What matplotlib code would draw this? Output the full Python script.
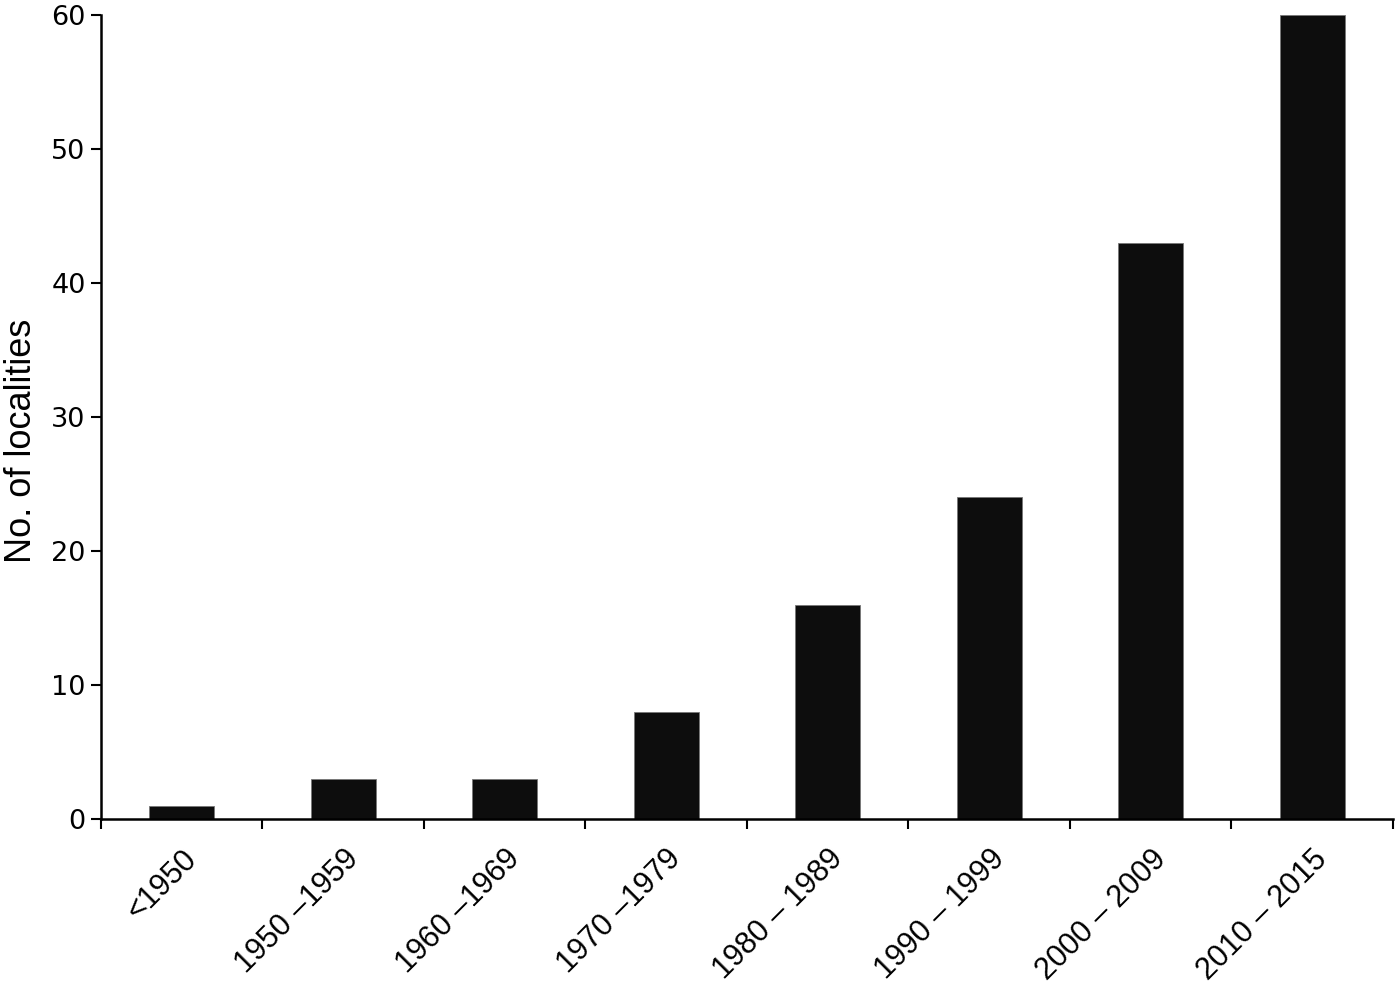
import matplotlib
matplotlib.use("Agg")
import matplotlib.pyplot as plt
import numpy as np

categories = ["<1950", "1950 –1959", "1960 –1969", "1970 –1979", "1980 – 1989",
              "1990 – 1999", "2000 – 2009", "2010 – 2015"]
values = [1, 3, 3, 8, 16, 24, 43, 60]
yticks = [0, 10, 20, 30, 40, 50, 60]

fig = plt.figure(figsize=(14, 9.86), dpi=100)
ax = fig.add_axes([0.0721, 0.1694, 0.9229, 0.8154])

x = np.arange(len(categories))
ax.bar(x, values, width=0.4, color="#0d0d0d", edgecolor="#777777", linewidth=0.6)

ax.set_xlim(-0.5, len(categories) - 0.5)
ax.set_ylim(0, 60)
ax.set_yticks(yticks)
ax.set_yticklabels([str(v) for v in yticks], fontsize=19.5, family="DejaVu Sans")

ax.set_xticks(np.arange(-0.5, len(categories), 1.0))
ax.set_xticklabels([])
ax.set_xticks(x, minor=True)
ax.set_xticklabels(categories, minor=True, rotation=45, ha="right", va="top",
                   rotation_mode="anchor", fontsize=22, family="Liberation Sans")
ax.tick_params(axis="x", which="minor", length=0, pad=18)
ax.tick_params(axis="x", which="major", length=7, width=1.5, direction="out")
ax.tick_params(axis="y", length=7, width=1.5, direction="out", pad=4)

for s in ["top", "right"]:
    ax.spines[s].set_visible(False)
for s in ["left", "bottom"]:
    ax.spines[s].set_linewidth(1.8)

fig.text(22 / 1400, 1 - 441 / 986, "No. of localities", fontsize=26,
         family="Liberation Sans", rotation=90, ha="center", va="center")

fig.savefig("out.png", dpi=100)
